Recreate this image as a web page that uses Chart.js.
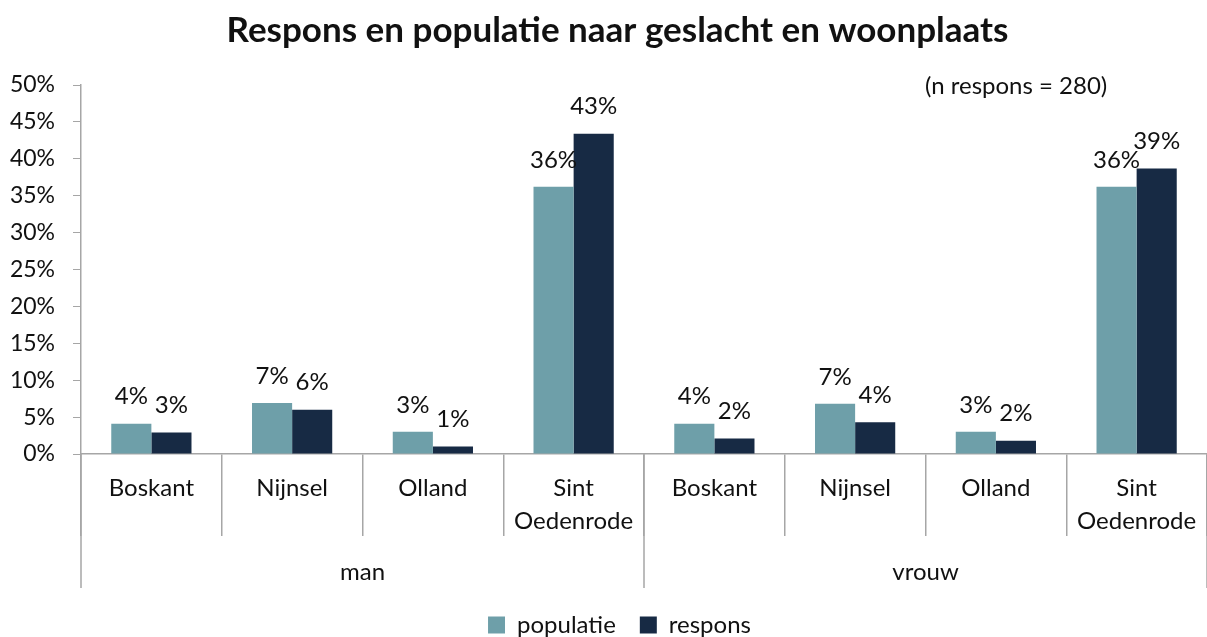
<!DOCTYPE html>
<html>
<head>
<meta charset="utf-8">
<script src="https://cdn.jsdelivr.net/npm/chart.js@4"></script>
<style>
  html, body { margin: 0; padding: 0; background: #fff; }
  #wrap { width: 1207px; height: 637px; }
</style>
</head>
<body>
<div id="wrap"><canvas id="responsChart"></canvas></div>
<script>
// gegevens uit de grafiek (percentages)
const woonplaatsen = ['Boskant', 'Nijnsel', 'Olland', ['Sint', 'Oedenrode']];
const geslacht = ['man', 'vrouw'];
const populatie = [4.1, 6.9, 3.0, 36.2, 4.1, 6.8, 3.0, 36.2];
const respons = [2.9, 6.0, 1.0, 43.4, 2.1, 4.3, 1.8, 38.7];
const yMax = 50;
const yStep = 5;
const noot = '(n respons = 280)';

const labels = geslacht.flatMap(() => woonplaatsen);
const lijnKleur = '#a6a6a6';
const fontFam = 'Lato, "Open Sans", sans-serif';

// labels boven de staven, scheidingslijnen en groepsnamen onder de as
const extras = {
  id: 'extras',
  afterLayout(chart) {
    // titel en legenda iets naar rechts, zoals in het origineel
    if (chart.titleBlock) { chart.titleBlock.left += 10; chart.titleBlock.right += 10; }
    if (chart.legend) { chart.legend.left += 12; chart.legend.right += 12; }
  },
  afterDatasetsDraw(chart) {
    const ctx = chart.ctx;
    ctx.save();
    ctx.font = '24px ' + fontFam;
    ctx.fillStyle = '#111';
    ctx.textAlign = 'center';
    ctx.textBaseline = 'middle';
    chart.data.datasets.forEach((ds, di) => {
      chart.getDatasetMeta(di).data.forEach((bar, i) => {
        ctx.fillText(Math.round(ds.data[i]) + '%', bar.x, bar.y - 27);
      });
    });
    ctx.restore();
  },
  afterDraw(chart) {
    const ctx = chart.ctx;
    const x = chart.scales.x;
    const area = chart.chartArea;
    const w = x.width / labels.length;
    const per = woonplaatsen.length;
    ctx.save();
    ctx.strokeStyle = lijnKleur;
    ctx.lineWidth = 1.5;
    for (let g = 0; g <= geslacht.length; g++) {
      const px = x.getPixelForValue(g * per) - w / 2;
      ctx.beginPath();
      ctx.moveTo(px, area.bottom);
      ctx.lineTo(px, area.bottom + 134);
      ctx.stroke();
    }
    ctx.font = '24px ' + fontFam;
    ctx.fillStyle = '#111';
    ctx.textAlign = 'center';
    ctx.textBaseline = 'middle';
    geslacht.forEach((g, gi) => {
      const mid = (x.getPixelForValue(gi * per) + x.getPixelForValue(gi * per + per - 1)) / 2;
      ctx.fillText(g, mid, area.bottom + 118);
    });
    ctx.textAlign = 'left';
    ctx.fillText(noot, 925, area.top + 1);
    ctx.restore();
  }
};

const ctx = document.getElementById('responsChart').getContext('2d');
const responsChart = new Chart(ctx, {
  type: 'bar',
  data: {
    labels: labels,
    datasets: [
      {
        label: 'populatie',
        data: populatie,
        backgroundColor: '#6e9fa9'
      },
      {
        label: 'respons',
        data: respons,
        backgroundColor: '#172a44'
      }
    ]
  },
  options: {
    responsive: true,
    maintainAspectRatio: false,
    animation: false,
    layout: { padding: { left: 8, right: 0, top: 0, bottom: -10 } },
    categoryPercentage: 0.57,
    barPercentage: 1.0,
    scales: {
      y: {
        min: 0,
        max: yMax,
        ticks: {
          stepSize: yStep,
          padding: 18,
          color: '#111',
          font: { size: 23, family: fontFam },
          callback: v => v + '%'
        },
        grid: { drawOnChartArea: false, tickLength: 8, color: lijnKleur },
        border: { color: lijnKleur, width: 1.5 },
        afterFit(scale) { scale.width = 73; }
      },
      x: {
        ticks: {
          autoSkip: false,
          maxRotation: 0,
          padding: -65,
          color: '#111',
          font: { size: 24, family: fontFam, lineHeight: 1.4 }
        },
        grid: { offset: true, drawOnChartArea: false, tickLength: 82, color: lijnKleur, lineWidth: 1.5 },
        border: { color: lijnKleur, width: 1.5 },
        afterFit(scale) { scale.height = 135; }
      }
    },
    plugins: {
      title: {
        display: true,
        text: 'Respons en populatie naar geslacht en woonplaats',
        color: '#111',
        font: { size: 35, weight: 'bold', family: fontFam },
        padding: { top: 10, bottom: 33 }
      },
      legend: {
        position: 'bottom',
        labels: {
          color: '#111',
          boxWidth: 17,
          boxHeight: 17,
          padding: 24,
          font: { size: 24, family: fontFam }
        }
      },
      tooltip: { enabled: false }
    }
  },
  plugins: [extras]
});
</script>
</body>
</html>
